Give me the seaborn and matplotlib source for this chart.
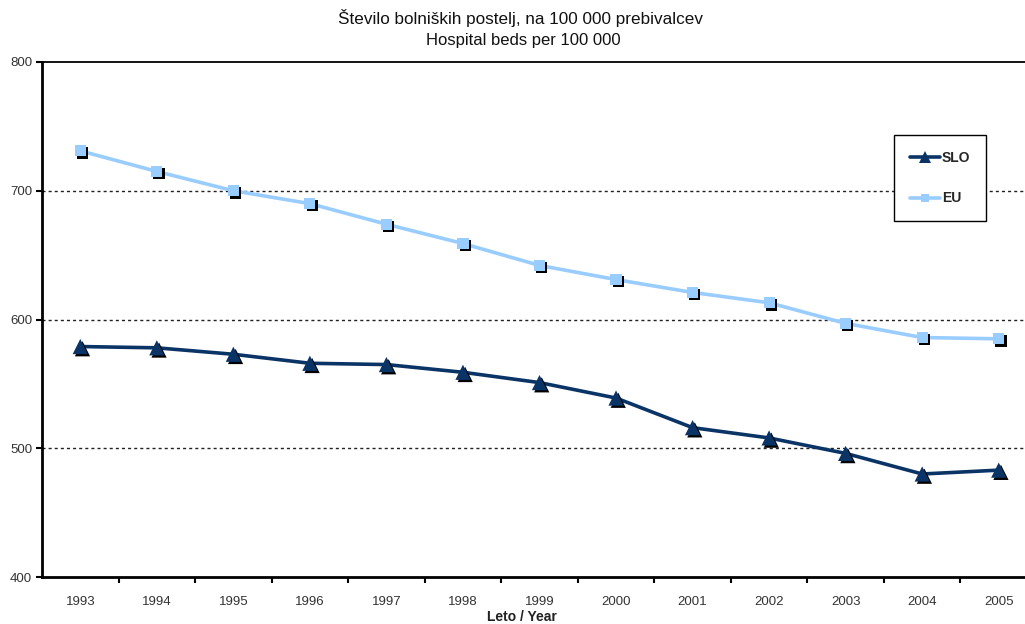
import matplotlib
matplotlib.use("Agg")
import matplotlib.pyplot as plt
import matplotlib.patheffects as pe
from matplotlib.lines import Line2D
from matplotlib.ticker import FixedLocator
import numpy as np
import pandas as pd
import seaborn as sns

# Hospital beds per 100 000 inhabitants
years = [1993, 1994, 1995, 1996, 1997, 1998, 1999, 2000, 2001, 2002, 2003, 2004, 2005]
slo = [579, 578, 573, 566, 565, 559, 551, 539, 516, 508, 496, 480, 483]
eu = [731, 715, 700, 690, 674, 659, 642, 631, 621, 613, 597, 586, 585]
series_names = ["SLO", "EU"]
y_ticks = [400, 500, 600, 700, 800]

df = pd.DataFrame({
    "year": years * 2,
    "beds": slo + eu,
    "series": ["SLO"] * len(years) + ["EU"] * len(years),
})

colors = {"SLO": "#0b3466", "EU": "#99ccff"}
markers = {"SLO": "^", "EU": "s"}
msizes = {"SLO": 120, "EU": 65}

sns.set_theme(style="white")
plt.rcParams["font.family"] = ["Liberation Sans", "DejaVu Sans"]

fig = plt.figure(figsize=(10.25, 6.24), dpi=100)
W, H = 1025, 624
ax = fig.add_axes([42 / W, 1 - 577 / H, 995 / W, 515 / H])

# lines
sns.lineplot(data=df, x="year", y="beds", hue="series", palette=colors,
             hue_order=series_names, linewidth=2.6, legend=False, ax=ax,
             zorder=3)

# markers with a small drop shadow
for name in series_names:
    sub = df[df["series"] == name]
    sns.scatterplot(data=sub, x="year", y="beds", color=colors[name],
                    marker=markers[name], s=msizes[name], linewidth=0,
                    legend=False, ax=ax, zorder=4)
    coll = ax.collections[-1]
    coll.set_path_effects([
        pe.SimplePatchShadow(offset=(1.6, -1.6), shadow_rgbFace="black", alpha=1.0),
        pe.Normal(),
    ])

ax.set_xlim(years[0] - 0.5, years[-1] + 0.5)
ax.set_ylim(y_ticks[0], y_ticks[-1])
ax.set_xticks(years)
ax.set_xticklabels([str(y) for y in years])
ax.xaxis.set_minor_locator(FixedLocator([y + 0.5 for y in years[:-1]]))
ax.set_yticks(y_ticks)

ax.tick_params(axis="x", which="major", length=0, pad=14, labelsize=9.5,
               labelcolor="#333333")
ax.tick_params(axis="x", which="minor", length=4, width=1.5, color="black",
               direction="out", bottom=True)
ax.tick_params(axis="y", which="major", length=4, width=1.5, color="black",
               direction="out", left=True, pad=3, labelsize=9.5,
               labelcolor="#333333")

# dashed horizontal gridlines
for v in y_ticks[1:-1]:
    ax.axhline(v, color="#222222", linewidth=1.0, linestyle=(0, (2.2, 2.2)),
               zorder=1)

for side in ["left", "bottom"]:
    ax.spines[side].set_visible(True)
    ax.spines[side].set_color("black")
    ax.spines[side].set_linewidth(2.0)
ax.spines["top"].set_visible(True)
ax.spines["top"].set_color("black")
ax.spines["top"].set_linewidth(1.3)
ax.spines["right"].set_visible(False)

ax.set_xlabel("Leto / Year", fontsize=10, fontweight="bold", color="#222222")
ax.xaxis.set_label_coords((522 - 42) / 995, -(617 - 577) / 515)
ax.xaxis.label.set_va("center")
ax.set_ylabel("")

fig.text(521 / W, 1 - 18 / H, "Število bolniških postelj, na 100 000 prebivalcev",
         ha="center", va="center", fontsize=12.3, color="#111111")
fig.text(523 / W, 1 - 41 / H, "Hospital beds per 100 000",
         ha="center", va="center", fontsize=12, color="#111111")

handles = [
    Line2D([0], [0], color=colors["SLO"], linewidth=2.6, marker="^",
           markersize=8.5, markeredgewidth=0),
    Line2D([0], [0], color=colors["EU"], linewidth=2.6, marker="s",
           markersize=6, markeredgewidth=0),
]
leg = ax.legend(handles, series_names, loc="upper left",
                bbox_to_anchor=(0.856, 0.858), borderaxespad=0,
                frameon=True, fancybox=False, handlelength=2.2,
                handletextpad=0.1, labelspacing=1.9, borderpad=1.15,
                prop={"weight": "bold", "size": 10})
leg.get_frame().set_edgecolor("black")
leg.get_frame().set_linewidth(1.0)
leg.get_frame().set_facecolor("white")
leg.get_frame().set_alpha(1.0)
leg.set_zorder(5)

fig.savefig("out.png", dpi=100, facecolor="white")
